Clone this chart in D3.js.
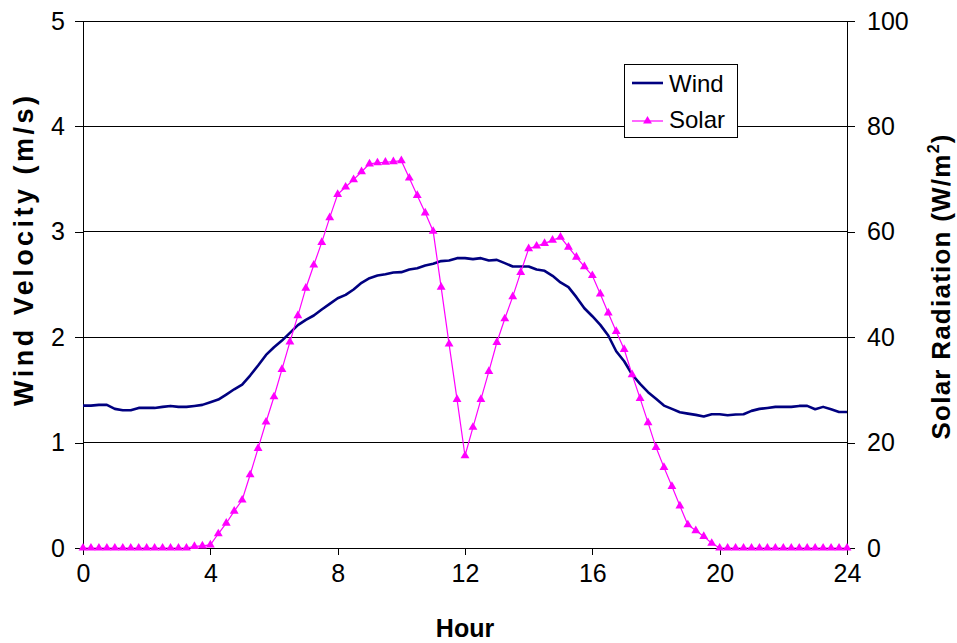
<!DOCTYPE html>
<html>
<head>
<meta charset="utf-8">
<script src="https://cdn.jsdelivr.net/npm/d3@7"></script>
<style>
  body { margin: 0; background: #fff; }
  svg text { font-family: "Liberation Sans", Arial, sans-serif; fill: #000; }
</style>
</head>
<body>
<svg id="chart" width="957" height="643"></svg>
<script>
// Quarter-hour readings over one day (97 samples, 0h to 24h)
const hours = d3.range(97).map(i => i * 0.25);

const windVelocity = [
  1.351, 1.351, 1.358, 1.358, 1.320, 1.307, 1.307, 1.329, 1.329, 1.329,
  1.339, 1.348, 1.339, 1.339, 1.348, 1.358, 1.383, 1.408, 1.456, 1.506,
  1.551, 1.636, 1.731, 1.832, 1.905, 1.968, 2.041, 2.114, 2.165, 2.206,
  2.263, 2.316, 2.370, 2.402, 2.453, 2.516, 2.560, 2.585, 2.598, 2.614,
  2.617, 2.642, 2.655, 2.680, 2.696, 2.722, 2.728, 2.750, 2.750, 2.741,
  2.750, 2.728, 2.734, 2.703, 2.671, 2.671, 2.671, 2.642, 2.630, 2.582,
  2.519, 2.475, 2.380, 2.275, 2.199, 2.117, 2.016, 1.867, 1.772, 1.646,
  1.557, 1.478, 1.415, 1.351, 1.320, 1.288, 1.275, 1.263, 1.247, 1.269,
  1.269, 1.259, 1.266, 1.269, 1.301, 1.320, 1.329, 1.339, 1.339, 1.339,
  1.348, 1.348, 1.316, 1.339, 1.316, 1.291, 1.291
];

const solarRadiation = [
  0, 0, 0, 0, 0, 0, 0, 0, 0, 0,
  0, 0, 0, 0, 0.3, 0.4, 0.6, 2.7, 4.7, 7.0,
  9.1, 13.9, 18.9, 23.9, 28.7, 33.9, 39.1, 44.1, 49.3, 53.7,
  58.0, 62.7, 67.1, 68.5, 69.9, 71.4, 72.9, 73.1, 73.2, 73.3,
  73.5, 70.2, 66.9, 63.6, 60.1, 49.5, 38.7, 28.2, 17.5, 22.9,
  28.2, 33.5, 39.0, 43.5, 47.7, 52.3, 56.8, 57.3, 57.8, 58.4,
  59.0, 57.1, 55.2, 53.4, 51.7, 48.2, 44.6, 41.1, 37.7, 32.9,
  28.4, 23.8, 19.1, 15.3, 11.7, 8.0, 4.4, 3.3, 2.2, 0.9,
  0, 0, 0, 0, 0, 0, 0, 0, 0, 0,
  0, 0, 0, 0, 0, 0, 0
];

const hourTicks = [0, 4, 8, 12, 16, 20, 24];
const windTicks = [0, 1, 2, 3, 4, 5];
const solarTicks = [0, 20, 40, 60, 80, 100];
const seriesNames = ["Wind", "Solar"];

const svg = d3.select("#chart");
const plot = { left: 83, right: 847, top: 21, bottom: 548 };

const x = d3.scaleLinear().domain([0, 24]).range([plot.left, plot.right]);
const yWind = d3.scaleLinear().domain([0, 5]).range([plot.bottom, plot.top]);
const ySolar = d3.scaleLinear().domain([0, 100]).range([plot.bottom, plot.top]);

// Horizontal gridlines
svg.append("g")
  .selectAll("line")
  .data(windTicks.slice(1))
  .join("line")
  .attr("x1", plot.left).attr("x2", plot.right)
  .attr("y1", d => yWind(d)).attr("y2", d => yWind(d))
  .attr("stroke", "#000").attr("stroke-width", 1)
  .attr("shape-rendering", "crispEdges");

// Axes
const fontSize = 25;
const xAxis = svg.append("g")
  .attr("transform", `translate(0,${plot.bottom})`)
  .call(d3.axisBottom(x).tickValues(hourTicks).tickSize(7).tickSizeOuter(0).tickPadding(9).tickFormat(d3.format("d")));
const leftAxis = svg.append("g")
  .attr("transform", `translate(${plot.left},0)`)
  .call(d3.axisLeft(yWind).tickValues(windTicks).tickSize(8).tickSizeOuter(0).tickPadding(10).tickFormat(d3.format("d")));
const rightAxis = svg.append("g")
  .attr("transform", `translate(${plot.right},0)`)
  .call(d3.axisRight(ySolar).tickValues(solarTicks).tickSize(8).tickSizeOuter(0).tickPadding(12).tickFormat(d3.format("d")));

[xAxis, leftAxis, rightAxis].forEach(g => {
  g.selectAll("path.domain").attr("stroke", "#000").attr("stroke-width", 1.3);
  g.selectAll(".tick line").attr("stroke", "#000");
  g.selectAll(".tick text").attr("font-size", fontSize)
    .attr("font-family", '"Liberation Sans", Arial, sans-serif').attr("fill", "#000");
  g.attr("shape-rendering", "crispEdges");
});

// Axis titles
svg.append("text")
  .attr("x", x(12)).attr("y", 637)
  .attr("text-anchor", "middle")
  .attr("font-size", fontSize).attr("font-weight", "bold")
  .text("Hour");

svg.append("text")
  .attr("transform", "translate(33,251) rotate(-90)")
  .attr("text-anchor", "middle")
  .attr("font-size", 27).attr("font-weight", "bold")
  .attr("textLength", 310).attr("lengthAdjust", "spacing")
  .text("Wind Velocity (m/s)");

const rt = svg.append("text")
  .attr("transform", "translate(950,287) rotate(-90)")
  .attr("text-anchor", "middle")
  .attr("font-size", 26).attr("font-weight", "bold")
  .attr("textLength", 305).attr("lengthAdjust", "spacing");
rt.append("tspan").text("Solar Radiation (W/m");
rt.append("tspan").attr("font-size", 16).attr("dy", -11).text("2");
rt.append("tspan").attr("dy", 11).text(")");

// Wind series
svg.append("path")
  .datum(hours.map((h, i) => [h, windVelocity[i]]))
  .attr("fill", "none")
  .attr("stroke", "#000080")
  .attr("stroke-width", 2.6)
  .attr("stroke-linejoin", "round")
  .attr("d", d3.line().x(d => x(d[0])).y(d => yWind(d[1])));

// Solar series with triangle markers
const solarPts = hours.map((h, i) => [h, solarRadiation[i]]);
svg.append("path")
  .datum(solarPts)
  .attr("fill", "none")
  .attr("stroke", "#FF00FF")
  .attr("stroke-width", 1.2)
  .attr("d", d3.line().x(d => x(d[0])).y(d => ySolar(d[1])));

const tri = d3.symbol().type(d3.symbolTriangle).size(34);
svg.append("g")
  .selectAll("path")
  .data(solarPts)
  .join("path")
  .attr("transform", d => `translate(${x(d[0])},${ySolar(d[1])})`)
  .attr("d", tri)
  .attr("fill", "#FF00FF");

// Legend
const legend = svg.append("g").attr("transform", "translate(624,64)");
legend.append("rect")
  .attr("width", 113).attr("height", 73)
  .attr("fill", "#fff").attr("stroke", "#000").attr("stroke-width", 1)
  .attr("shape-rendering", "crispEdges");
legend.append("line")
  .attr("x1", 8).attr("x2", 39).attr("y1", 19).attr("y2", 19)
  .attr("stroke", "#000080").attr("stroke-width", 2.6);
legend.append("line")
  .attr("x1", 8).attr("x2", 39).attr("y1", 57).attr("y2", 57)
  .attr("stroke", "#FF00FF").attr("stroke-width", 1.2);
legend.append("path")
  .attr("transform", "translate(23.5,57)")
  .attr("d", tri).attr("fill", "#FF00FF");
legend.selectAll("text.lbl")
  .data(seriesNames)
  .join("text")
  .attr("class", "lbl")
  .attr("x", 45)
  .attr("y", (d, i) => 28 + i * 36)
  .attr("font-size", 24)
  .text(d => d);
</script>
</body>
</html>
